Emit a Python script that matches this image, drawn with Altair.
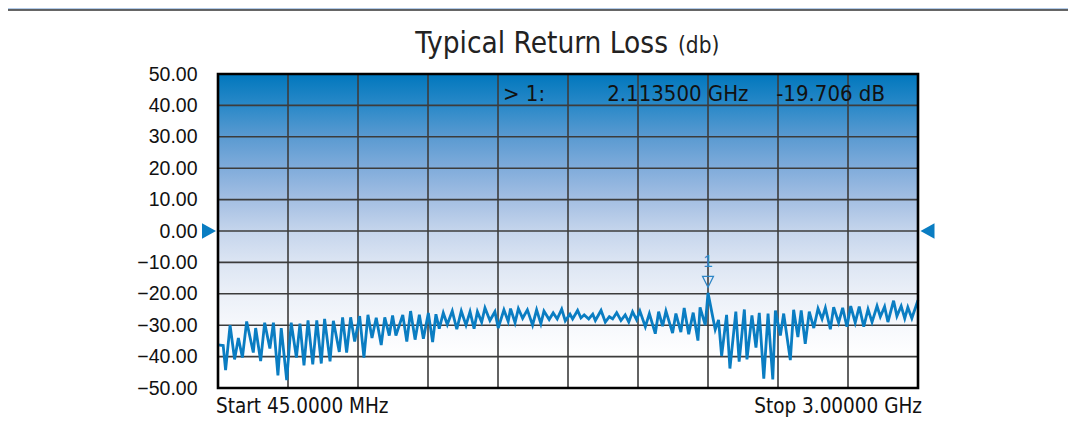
import altair as alt
import pandas as pd

# ---- data ----
freq_ghz = [
    0.045, 0.067, 0.077, 0.096, 0.115, 0.131, 0.148, 0.166, 0.194, 0.204, 0.225, 0.242, 0.264, 0.279,
    0.298, 0.312, 0.335, 0.354, 0.376, 0.391, 0.408, 0.425, 0.445, 0.462, 0.481, 0.495, 0.518, 0.532,
    0.557, 0.571, 0.588, 0.605, 0.622, 0.643, 0.661, 0.678, 0.695, 0.713, 0.734, 0.749, 0.768, 0.782,
    0.796, 0.825, 0.842, 0.858, 0.877, 0.895, 0.912, 0.933, 0.951, 0.965, 0.979, 0.996, 1.013, 1.034,
    1.053, 1.072, 1.092, 1.109, 1.126, 1.140, 1.158, 1.172, 1.193, 1.214, 1.228, 1.252, 1.270, 1.280,
    1.299, 1.313, 1.331, 1.351, 1.373, 1.390, 1.408, 1.421, 1.443, 1.460, 1.477, 1.496, 1.511,
    1.531, 1.542, 1.563, 1.577, 1.591, 1.610, 1.627, 1.638, 1.662, 1.680, 1.697, 1.711, 1.728, 1.746,
    1.764, 1.779, 1.795, 1.812, 1.826, 1.849, 1.866, 1.891, 1.905, 1.922, 1.936, 1.964, 1.978, 1.999,
    2.013, 2.032, 2.051, 2.071, 2.080, 2.102, 2.1135, 2.144, 2.158, 2.171, 2.192, 2.206, 2.231, 2.245,
    2.267,
    2.278, 2.299, 2.316, 2.330, 2.349, 2.367, 2.387, 2.398, 2.419, 2.433, 2.461, 2.475, 2.493, 2.507,
    2.524, 2.541, 2.560, 2.578, 2.595, 2.609, 2.630, 2.644, 2.665, 2.682, 2.700, 2.716, 2.735, 2.752,
    2.771, 2.789, 2.806, 2.827, 2.841, 2.859, 2.873, 2.897, 2.911, 2.929, 2.944, 2.957, 2.974, 3.000,
]
return_loss_db = [
    -36.3, -36.5, -44.3, -30.0, -40.9, -34.1, -40.3, -28.8, -38.7, -30.9, -41.4, -29.2, -37.4, -29.2,
    -46.0, -30.9, -47.5, -29.2, -40.3, -29.5, -42.8, -28.5, -42.5, -28.5, -42.2, -28.0, -41.5, -28.6,
    -38.5, -27.5, -38.7, -27.5, -35.2, -27.1, -40.3, -26.7, -34.1, -27.6, -36.3, -27.5, -33.3, -26.9,
    -33.3, -26.7, -35.2, -25.5, -34.6, -26.7, -34.3, -26.1, -35.4, -26.5, -31.1, -26.1, -29.8, -25.5,
    -31.3, -25.5, -30.0, -25.7, -31.1, -25.7, -29.0, -24.5, -28.5, -25.7, -30.9, -25.1, -28.8, -24.7,
    -29.2, -24.7, -27.8, -25.1, -30.0, -25.1, -29.5, -25.5, -28.2, -26.1, -28.0, -24.9, -28.6,
    -26.5, -28.0, -25.3, -27.7, -26.7, -28.0, -26.5, -28.5, -25.3, -29.0, -27.3, -28.0, -26.0, -28.5,
    -26.7, -29.0, -25.7, -28.3, -25.5, -30.5, -26.3, -32.7, -25.7, -30.3, -25.5, -32.5, -26.3, -32.2,
    -24.5, -32.9, -26.0, -34.9, -24.3, -30.0, -19.706, -31.4, -28.3, -39.8, -26.7, -43.8, -25.7, -41.6,
    -25.0,
    -40.9, -26.9, -37.1, -26.1, -47.0, -26.3, -47.3, -25.3, -33.3, -26.3, -41.1, -25.1, -33.8, -25.3,
    -35.9, -25.7, -30.9, -24.7, -28.0, -24.5, -31.3, -24.3, -29.2, -24.5, -30.5, -23.9, -29.2, -24.1,
    -30.5, -24.9, -29.0, -23.9, -27.3, -24.1, -29.0, -22.2, -27.1, -23.9, -27.8, -24.3, -27.8, -22.0,
]
y_ticks = [-50, -40, -30, -20, -10, 0, 10, 20, 30, 40, 50]
x_grid_ghz = [0.3405, 0.636, 0.9315, 1.227, 1.5225, 1.818, 2.1135, 2.409, 2.7045]
x_domain = [0.045, 3.0]
y_domain = [-50, 50]
marker_freq = [2.1135]
marker_db = [-19.706]
ref_level_db = [0.0]

title_main = "Typical Return Loss"
title_unit = "(db)"
readout_id = "> 1:"
readout_freq = "2.113500 GHz"
readout_val = "-19.706 dB"
start_label = "Start 45.0000 MHz"
stop_label = "Stop 3.00000 GHz"

# ---- styling ----
TRACE = "#0a7dc2"
GRID = "#3c3c3c"
NARROW = "DejaVu Sans Condensed, Liberation Sans Narrow, sans-serif"
REGULAR = "Liberation Sans, Arial, sans-serif"

df = pd.DataFrame({"f": freq_ghz, "db": return_loss_db})
xs = alt.Scale(domain=x_domain, nice=False, zero=False)
ys = alt.Scale(domain=y_domain, nice=False, zero=False)

Y_AXIS = alt.Axis(values=y_ticks, format=".2f", ticks=False, domain=False, grid=False,
                  title=None, labelFont=REGULAR, labelFontSize=19.5,
                  labelColor="#111111", labelPadding=21)


def X(field="f"):
    return alt.X(f"{field}:Q", scale=xs, axis=None)


def Y(field="db"):
    return alt.Y(f"{field}:Q", scale=ys, axis=Y_AXIS)


one = alt.Data(values=[{}])

grad = alt.LinearGradient(
    gradient="linear", x1=0, y1=0, x2=0, y2=1,
    stops=[
        alt.GradientStop(color="#0077bd", offset=0.0),
        alt.GradientStop(color="#2a89c8", offset=0.1),
        alt.GradientStop(color="#5a9ad1", offset=0.2),
        alt.GradientStop(color="#80acdb", offset=0.3),
        alt.GradientStop(color="#a4bfe3", offset=0.4),
        alt.GradientStop(color="#c5d5ec", offset=0.5),
        alt.GradientStop(color="#dce5f3", offset=0.6),
        alt.GradientStop(color="#ebf0f8", offset=0.7),
        alt.GradientStop(color="#f6f8fc", offset=0.8),
        alt.GradientStop(color="#ffffff", offset=0.9),
        alt.GradientStop(color="#ffffff", offset=1.0),
    ],
)

bg = alt.Chart(one).mark_rect(color=grad).encode(
    x=alt.value(0), x2=alt.value(700), y=alt.value(0), y2=alt.value(314))

vgrid = alt.Chart(pd.DataFrame({"f": x_grid_ghz})).mark_rule(
    color=GRID, strokeWidth=1.6).encode(x=X())
hgrid = alt.Chart(pd.DataFrame({"db": y_ticks})).mark_rule(
    color=GRID, strokeWidth=1.6).encode(y=Y())

line = alt.Chart(df).mark_line(color=TRACE, strokeWidth=2.8).encode(x=X(), y=Y())

frame = alt.Chart(one).mark_rect(filled=False, stroke="#000000", strokeWidth=2.6).encode(
    x=alt.value(0), x2=alt.value(700), y=alt.value(0), y2=alt.value(314))

ref_df = pd.DataFrame({"db": ref_level_db})
arrow_l = alt.Chart(ref_df).mark_point(
    shape="M-1,-1.1L1,0L-1,1.1Z", filled=True, size=196, color=TRACE, opacity=1
).encode(x=alt.value(-9), y=Y())
arrow_r = alt.Chart(ref_df).mark_point(
    shape="M1,-1.1L-1,0L1,1.1Z", filled=True, size=196, color=TRACE, opacity=1
).encode(x=alt.value(709.5), y=Y())

mk_df = pd.DataFrame({"f": marker_freq, "db": marker_db})
mk_tri = alt.Chart(mk_df).mark_point(
    shape="M-1,-1L1,-1L0,1Z", filled=False, size=121, color="#2e86c6", strokeWidth=1.2,
    opacity=1, yOffset=-11
).encode(x=X(), y=Y())
mk_lbl = alt.Chart(mk_df).mark_text(
    text="1", font=REGULAR, fontSize=17, color="#2e86c6", dy=-31
).encode(x=X(), y=Y())


def label(txt, x, y, size, align, font=NARROW, color="#111111"):
    return alt.Chart(one).mark_text(
        text=txt, font=font, fontSize=size, align=align, baseline="alphabetic", color=color
    ).encode(x=alt.value(x), y=alt.value(y))


texts = [
    label(title_main, 450, -20.7, 29.5, "right", color="#222222"),
    label(title_unit, 460, -20.7, 22.4, "left", color="#222222"),
    label(readout_id, 285, 27, 22, "left"),
    label(readout_freq, 530.5, 27, 22, "right"),
    label(readout_val, 667, 27, 22, "right"),
    label(start_label, -2, 338.7, 20.5, "left"),
    label(stop_label, 704, 338.7, 20.5, "right"),
]

band = alt.Chart(one).mark_rect(color="#b3cbe8").encode(
    x=alt.value(-210), x2=alt.value(850), y=alt.value(-66), y2=alt.value(-64.5))
edge = alt.Chart(one).mark_rule(color="#333333", strokeWidth=1.5).encode(
    x=alt.value(-210), x2=alt.value(850), y=alt.value(-64))

chart = alt.layer(
    band, edge, bg, vgrid, hgrid, line, frame, arrow_l, arrow_r, mk_tri, mk_lbl, *texts
).properties(
    width=700, height=314,
    autosize=alt.AutoSizeParams(type="none"),
    padding={"left": 210, "top": 66, "right": 150, "bottom": 36},
    background="white",
).configure_view(stroke=None)

chart.save("out.html", embed_options={"renderer": "svg", "actions": False})
